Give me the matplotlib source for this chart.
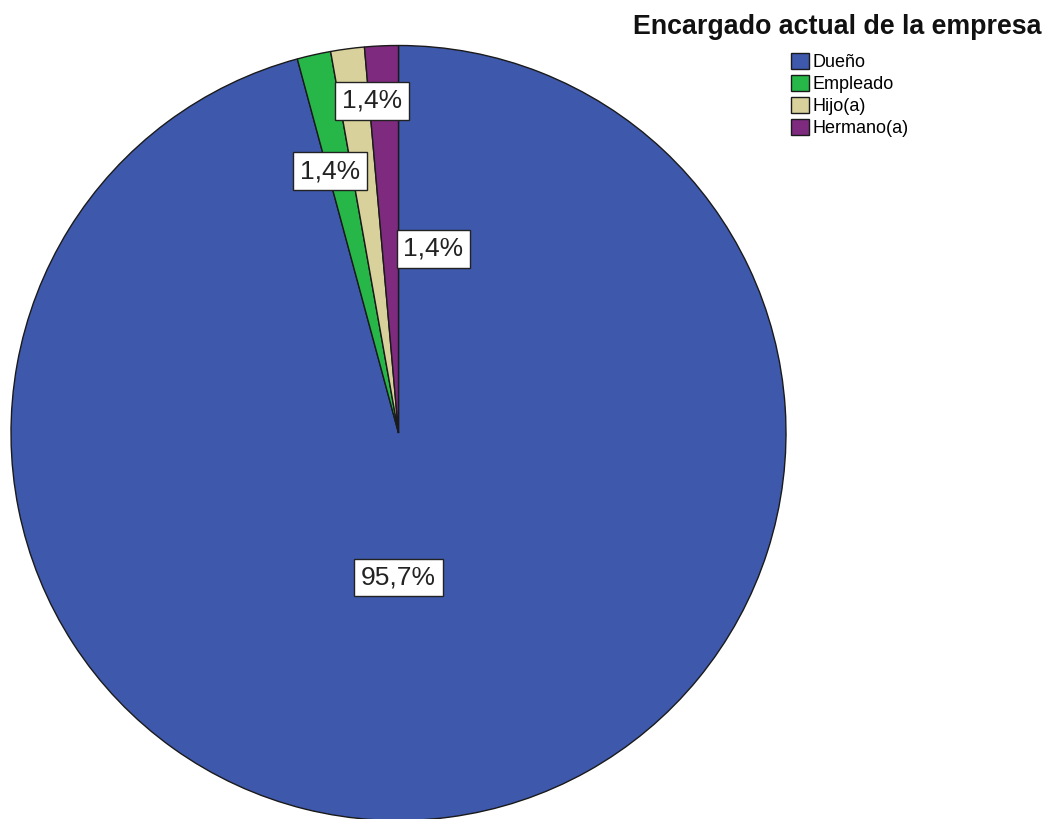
import matplotlib
matplotlib.use("Agg")
import matplotlib.pyplot as plt

# Encargado actual de la empresa
categories = ["Dueño", "Empleado", "Hijo(a)", "Hermano(a)"]
percentages = [95.7, 1.4, 1.4, 1.4]
colors = ["#3E58AC", "#26B748", "#D8D19B", "#7E2A7E"]
# label anchor points in pie units (radius = 1)
label_pos = [(0.0, -0.372), (-0.177, 0.676), (-0.068, 0.857), (0.09, 0.475)]

plt.rcParams["font.family"] = ["Liberation Sans", "DejaVu Sans"]

W, H = 1049, 819
fig = plt.figure(figsize=(W / 100, H / 100), dpi=100)
fig.patch.set_facecolor("white")

cx, cy, r = 398.5, 433.0, 387.5
ax = fig.add_axes([(cx - r) / W, (H - cy - r) / H, 2 * r / W, 2 * r / H])
ax.set_xlim(-1, 1)
ax.set_ylim(-1, 1)
ax.set_aspect("equal")
ax.axis("off")

wedges, _ = ax.pie(percentages, colors=colors, startangle=90, counterclock=False,
                   radius=1.0, center=(0, 0),
                   wedgeprops=dict(edgecolor="#1a1a1a", linewidth=1.0))
ax.set_xlim(-1, 1)
ax.set_ylim(-1, 1)

for val, (x, y) in zip(percentages, label_pos):
    txt = f"{val:.1f}%".replace(".", ",")
    ax.text(x, y, txt, ha="center", va="center", fontsize=19, color="#222222",
            bbox=dict(boxstyle="square,pad=0.25", facecolor="white",
                      edgecolor="#222222", linewidth=1.0))

fig.text(837 / W, 1 - 27 / H, "Encargado actual de la empresa", ha="center",
         va="center", fontsize=19.3, fontweight="bold", color="#111111")

fig.legend(wedges, categories, loc="upper left",
           bbox_to_anchor=(791 / W, 1 - 53 / H), frameon=False,
           fontsize=13, handlelength=1.0, handleheight=1.0,
           handletextpad=0.2, labelspacing=0.2, borderpad=0.0,
           borderaxespad=0.0)

fig.savefig("out.png", dpi=100, facecolor="white")
